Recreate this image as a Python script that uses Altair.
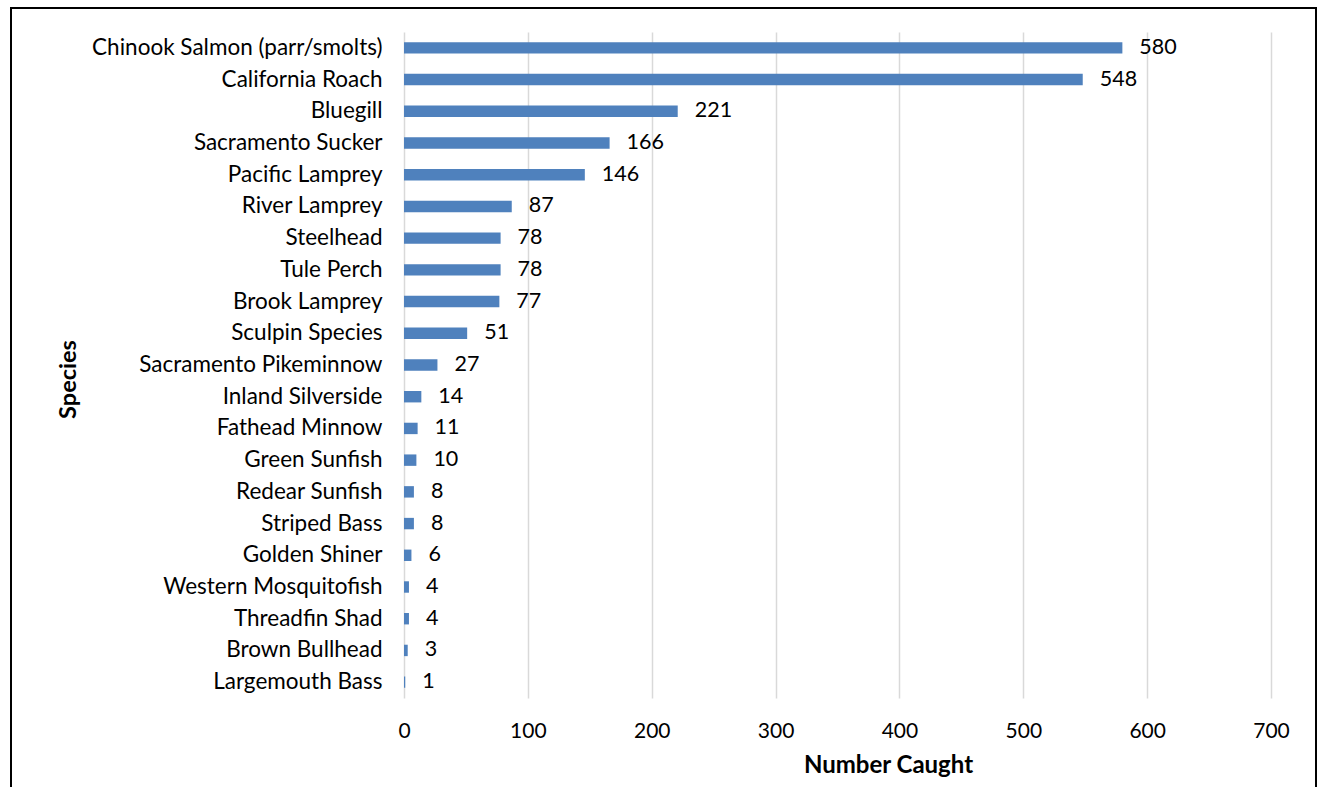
import altair as alt
import pandas as pd

species = [
    "Chinook Salmon (parr/smolts)", "California Roach", "Bluegill", "Sacramento Sucker",
    "Pacific Lamprey ", "River Lamprey", "Steelhead ", "Tule Perch", "Brook Lamprey",
    "Sculpin Species", "Sacramento Pikeminnow", "Inland Silverside", "Fathead Minnow",
    "Green Sunfish", "Redear Sunfish", "Striped Bass", "Golden Shiner",
    "Western Mosquitofish", "Threadfin Shad", "Brown Bullhead", "Largemouth Bass",
]
counts = [580, 548, 221, 166, 146, 87, 78, 78, 77, 51, 27, 14, 11, 10, 8, 8, 6, 4, 4, 3, 1]
x_ticks = [0, 100, 200, 300, 400, 500, 600, 700]

df = pd.DataFrame({"Species": species, "Count": counts})
FONT = "Lato"

y_enc = alt.Y(
    "Species:N", sort=species,
    scale=alt.Scale(paddingInner=0.64, paddingOuter=0.32),
    axis=alt.Axis(
        title="Species", titleFontSize=23.5, titleFontWeight="bold", titleFont=FONT,
        titleColor="black", titleX=-336, titleY=347, titleAngle=-90,
        titleBaseline="middle",
        labelFont=FONT, labelFontSize=22.5, labelColor="black", labelPadding=22,
        ticks=False, domain=False, grid=False, labelLimit=400,
    ),
)
x_enc = alt.X(
    "Count:Q",
    scale=alt.Scale(domain=[0, 700], nice=False),
    axis=alt.Axis(
        values=x_ticks,
        title="Number Caught", titleFontSize=24, titleFontWeight="bold", titleFont=FONT,
        titleColor="black", titleX=484, titleY=67, titleBaseline="middle",
        labelFont=FONT, labelFontSize=21, labelColor="black", labelPadding=22,
        labelFlush=False,
        ticks=False, domain=False, grid=True, gridColor="#d9d9d9", gridWidth=1.5,
    ),
)

bars = alt.Chart(df).mark_bar(color="#4f81bd").encode(x=x_enc, y=y_enc)
labels = alt.Chart(df).mark_text(
    align="left", baseline="middle", dx=17, font=FONT, fontSize=21.5, color="black"
).encode(x="Count:Q", y=alt.Y("Species:N", sort=species), text="Count:Q")

frame = alt.Chart(pd.DataFrame({"a": [0]})).mark_rect(
    fill=None, stroke="black", strokeWidth=2, clip=False
).encode(
    x=alt.value(-393), x2=alt.value(912), y=alt.value(-24), y2=alt.value(800)
)

chart = alt.layer(bars, labels, frame).properties(
    width=867, height=666,
    autosize=alt.AutoSizeParams(type="none"),
    padding={"left": 404, "top": 32, "right": 50, "bottom": 89},
).configure(background="white").configure_view(strokeWidth=0, stroke="transparent")

chart.save("out.html", embed_options={"renderer": "svg", "actions": False})
